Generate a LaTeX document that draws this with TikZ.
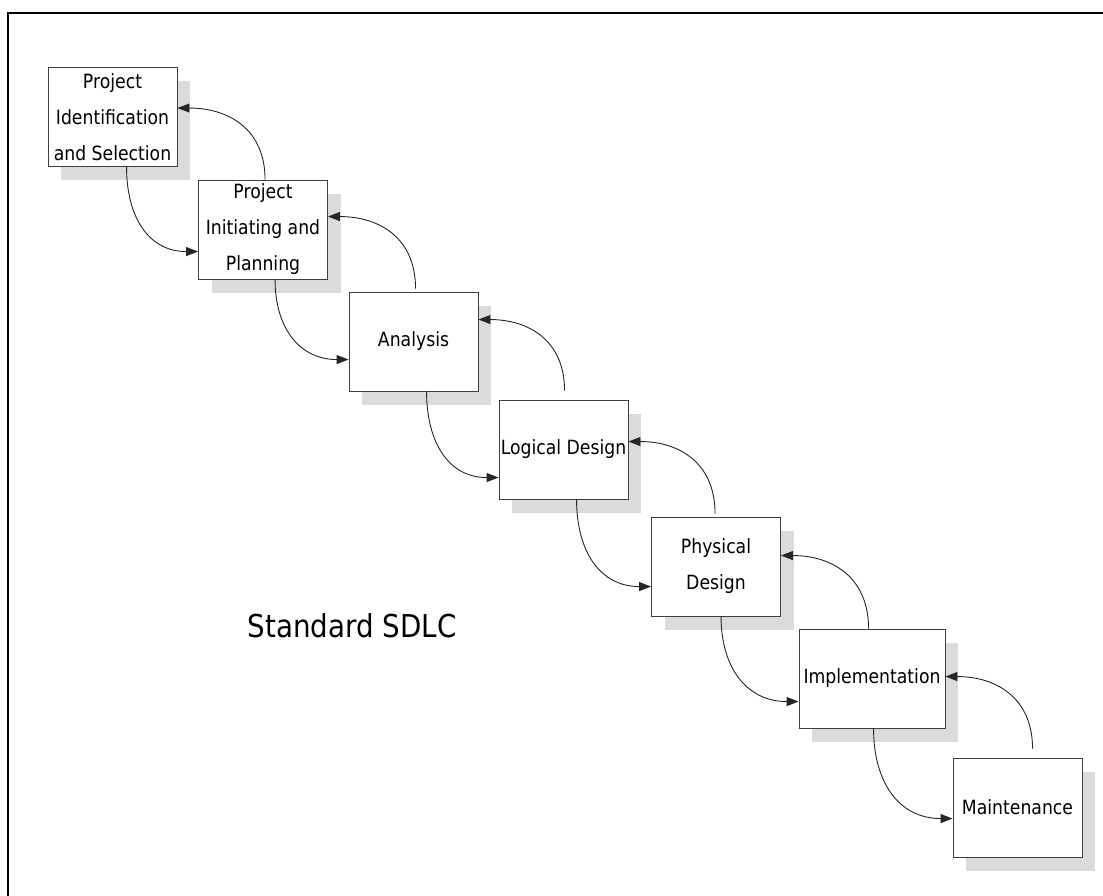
\documentclass[tikz,border=0pt]{standalone}
\usepackage{fontspec}
\setmainfont{DejaVu Sans}[FakeStretch=0.88]
\usetikzlibrary{arrows.meta,shadows}
\begin{document}
\begin{tikzpicture}[x=1pt,y=-1pt,
  stagebox/.style={draw=black!75, line width=0.9pt, fill=white, align=center,
    minimum width=129pt, minimum height=99pt, inner sep=0pt,
    font=\fontsize{19.6}{36}\selectfont,
    drop shadow={shadow xshift=13pt, shadow yshift=-14pt, fill=black!14, opacity=1}},
  arr/.style={line width=0.9pt, black!85, looseness=1.15, -{Triangle[length=12pt,width=9pt]}},
  frame/.style={line width=2.5pt}]
\useasboundingbox (0,0) rectangle (1103,896);
\draw[frame] (1103,13) -- (8,13) -- (8,896);
\node[stagebox] (n1) at (112.5,117) {Project\\Identification\\and Selection};
\node[stagebox] (n2) at (263,229.5) {Project\\Initiating and\\Planning};
\node[stagebox] (n3) at (413.5,341.5) {Analysis};
\node[stagebox] (n4) at (563.5,449.5) {Logical Design};
\node[stagebox] (n5) at (716,566.5) {Physical\\Design};
\node[stagebox, minimum width=146pt] (n6) at (872,678.5) {Implementation};
\node[stagebox] (n7) at (1017.5,807.5) {Maintenance};
\node[font=\fontsize{31.5}{38}\selectfont] (title) at (352,626) {Standard SDLC};
% forward arrows
\draw[arr] ([xshift=79pt]n1.south west) to[out=-90,in=180] ([yshift=-72pt]n2.north west);
\draw[arr] ([xshift=77pt]n2.south west) to[out=-90,in=180] ([yshift=-68pt]n3.north west);
\draw[arr] ([xshift=78pt]n3.south west) to[out=-90,in=180] ([yshift=-78pt]n4.north west);
\draw[arr] ([xshift=78pt]n4.south west) to[out=-90,in=180] ([yshift=-70pt]n5.north west);
\draw[arr] ([xshift=70pt]n5.south west) to[out=-90,in=180] ([yshift=-73pt]n6.north west);
\draw[arr] ([xshift=75pt]n6.south west) to[out=-90,in=180] ([yshift=-61pt]n7.north west);
% backward arrows
\draw[arr] ([xshift=67pt]n2.north west) to[out=90,in=0] ([yshift=-41pt]n1.north east);
\draw[arr] ([xshift=67pt,yshift=3pt]n3.north west) to[out=90,in=0] ([yshift=-37pt]n2.north east);
\draw[arr] ([xshift=66pt,yshift=9pt]n4.north west) to[out=90,in=0] ([yshift=-28pt]n3.north east);
\draw[arr] ([xshift=64pt,yshift=3pt]n5.north west) to[out=90,in=0] ([yshift=-42pt]n4.north east);
\draw[arr] ([xshift=70pt]n6.north west) to[out=90,in=0] ([yshift=-39pt]n5.north east);
\draw[arr] ([xshift=80pt,yshift=9pt]n7.north west) to[out=90,in=0] ([yshift=-48pt]n6.north east);
\end{tikzpicture}
\end{document}
